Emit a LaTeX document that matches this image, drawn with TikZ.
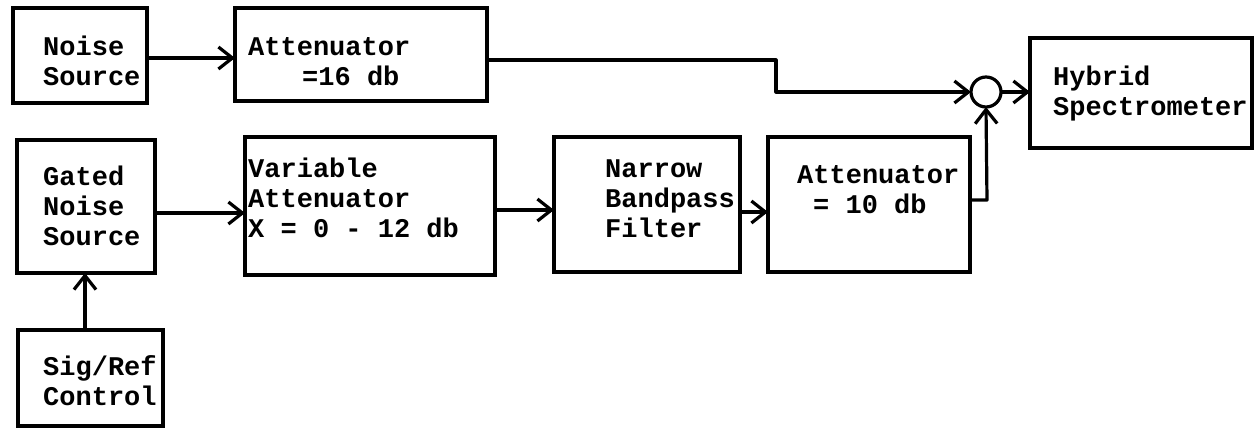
\documentclass[tikz,border=0pt]{standalone}
\usepackage{fontspec}
\newfontfamily\typewriter{Liberation Mono}
\usetikzlibrary{arrows.meta}

\begin{document}
\begin{tikzpicture}[x=1pt,y=-1pt,
  blk/.style={draw, line width=3.2pt, rectangle, inner sep=0pt, outer sep=0pt},
  lbl/.style={anchor=base west, inner sep=0pt, align=left,
              font=\typewriter\bfseries\fontsize{27}{30}\selectfont},
  wire/.style={line width=3.2pt, line join=round},
  flow/.style={wire, -{Straight Barb[length=14pt,width=22pt,line width=3.2pt]}}
]
\useasboundingbox (0,0) rectangle (1256,429);

% blocks
\node[blk, minimum width=134pt, minimum height=95pt]  (ns)   at (80,55.5)    {};
\node[blk, minimum width=252pt, minimum height=93pt]  (at16) at (361,54.5)   {};
\node[blk, minimum width=138pt, minimum height=133pt] (gns)  at (86,206.5)   {};
\node[blk, minimum width=250pt, minimum height=138pt] (va)   at (370,206)    {};
\node[blk, minimum width=186pt, minimum height=135pt] (nbf)  at (647,204.5)  {};
\node[blk, minimum width=202pt, minimum height=135pt] (at10) at (869,204.5)  {};
\node[blk, minimum width=222pt, minimum height=110pt] (hs)   at (1141,93)    {};
\node[blk, minimum width=145pt, minimum height=96pt]  (src)  at (90.5,378)   {};
\node[blk, circle, minimum size=30pt]                 (sum)  at (986,92)     {};

% labels (anchored at the baseline of their last line)
\node[lbl] (tns)   at (43,85)    {Noise\\Source};
\node[lbl] (tat16) at (248,85)   {Attenuator\\\hspace*{54pt}=16 db};
\node[lbl] (tgns)  at (43,245)   {Gated\\Noise\\Source};
\node[lbl] (tva)   at (248,237)  {Variable\\Attenuator\\X = 0 - 12 db};
\node[lbl] (tnbf)  at (605,237)  {Narrow\\Bandpass\\Filter};
\node[lbl] (tat10) at (797,213)  {Attenuator\\\hspace*{16pt}= 10 db};
\node[lbl] (ths)   at (1053,115) {Hybrid\\Spectrometer};
\node[lbl] (tsrc)  at (43,405)   {Sig/Ref\\Control};

% signal paths
\coordinate (k1) at (776,60);
\coordinate (k2) at (987,200);

\draw[flow] ([yshift=-2.5pt]ns.east) -- ([yshift=-2.5pt]ns.east -| at16.west);
\draw[flow] ([yshift=-5.5pt]at16.east) -- (k1) -- (k1 |- sum.west) -- (sum.west);
\draw[flow] ([yshift=-6.5pt]gns.east) -- ([yshift=-6.5pt]gns.east -| va.west);
\draw[flow] ([yshift=-4pt]va.east) -- ([yshift=-4pt]va.east -| nbf.west);
\draw[flow] ([yshift=-7.5pt]nbf.east) -- ([yshift=-7.5pt]nbf.east -| at10.west);
\draw[flow] (at10.east |- k2) -- (k2) -- (sum.south);
\draw[flow] (sum.east) -- (sum.east -| hs.west);
\draw[flow] ([xshift=-5.5pt]src.north) -- ([xshift=-5.5pt]src.north |- gns.south);
\end{tikzpicture}
\end{document}
